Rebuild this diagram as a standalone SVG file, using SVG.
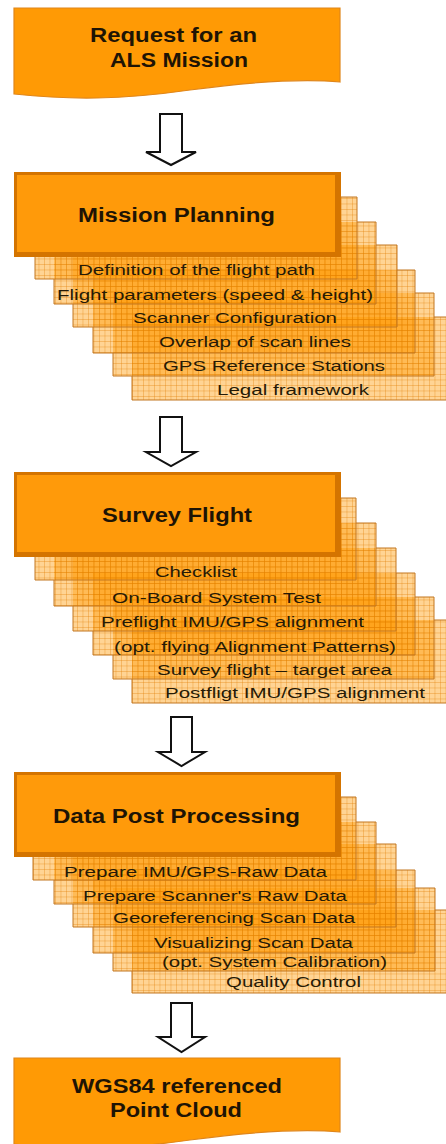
<svg xmlns="http://www.w3.org/2000/svg" width="446" height="1144" viewBox="0 0 446 1144">
<defs>
<pattern id="grid" width="5.5" height="5.5" patternUnits="userSpaceOnUse">
<path d="M0 0.3H5.5M0.3 0V5.5" stroke="#E07A00" stroke-width="0.7" fill="none" opacity="0.55"/>
</pattern>
<style>
.doc{fill:#FF9A05;stroke:#E0861A;stroke-width:1.2}
.mb-o{fill:#D47400}
.mb-i{fill:#FF9A0A}
.sf{fill:#FF9900;fill-opacity:0.42}
.sg{fill:url(#grid)}
.sb{fill:none;stroke:#C27620;stroke-width:1}
.t{font-family:"Liberation Sans",Arial,sans-serif;font-weight:bold;font-size:20px;fill:#1E1405;text-anchor:middle}
.i{font-family:"Liberation Sans",Arial,sans-serif;font-size:15.5px;fill:#261A06;text-anchor:middle}
.arr{fill:#FFFFFF;stroke:#111111;stroke-width:2;stroke-linejoin:miter}
</style>
</defs>
<rect width="446" height="1144" fill="#FFFFFF"/>

<g id="request">
<path class="doc" d="M14,8 H340 V82 C300,78 250,82 190,90 C120,100 70,100 14,94 Z"/>
<text class="t" x="173.5" y="42" textLength="167" lengthAdjust="spacingAndGlyphs">Request for an</text>
<text class="t" x="179" y="67" textLength="138" lengthAdjust="spacingAndGlyphs">ALS Mission</text>
</g>

<g id="mission-planning">
<g id="mp-6"><rect class="sf" x="132" y="317" width="322" height="83"/><rect class="sg" x="132" y="317" width="322" height="83"/><path class="sb" d="M434,317 H454 V400 H132 V376"/><text class="i" x="293" y="395" textLength="152" lengthAdjust="spacingAndGlyphs">Legal framework</text></g>
<g id="mp-5"><rect class="sf" x="113" y="293" width="321" height="83"/><rect class="sg" x="113" y="293" width="321" height="83"/><path class="sb" d="M415,293 H434 V376 H113 V353"/><text class="i" x="274" y="371" textLength="222" lengthAdjust="spacingAndGlyphs">GPS Reference Stations</text></g>
<g id="mp-4"><rect class="sf" x="93" y="270" width="322" height="83"/><rect class="sg" x="93" y="270" width="322" height="83"/><path class="sb" d="M397,270 H415 V353 H93 V327"/><text class="i" x="255" y="347" textLength="192" lengthAdjust="spacingAndGlyphs">Overlap of scan lines</text></g>
<g id="mp-3"><rect class="sf" x="73" y="245" width="324" height="82"/><rect class="sg" x="73" y="245" width="324" height="82"/><path class="sb" d="M376,245 H397 V327 H73 V304"/><text class="i" x="235" y="323" textLength="204" lengthAdjust="spacingAndGlyphs">Scanner Configuration</text></g>
<g id="mp-2"><rect class="sf" x="54" y="222" width="322" height="82"/><rect class="sg" x="54" y="222" width="322" height="82"/><path class="sb" d="M357,222 H376 V304 H54 V279"/><text class="i" x="215" y="300" textLength="316" lengthAdjust="spacingAndGlyphs">Flight parameters (speed &amp; height)</text></g>
<g id="mp-1"><rect class="sf" x="35" y="197" width="322" height="82"/><rect class="sg" x="35" y="197" width="322" height="82"/><path class="sb" d="M341,197 H357 V279 H35 V257"/><text class="i" x="196.5" y="275" textLength="237" lengthAdjust="spacingAndGlyphs">Definition of the flight path</text></g>
<rect class="mb-o" x="14" y="172" width="327" height="85"/>
<rect class="mb-i" x="17" y="175" width="318" height="77"/>
<text class="t" x="176.5" y="222" textLength="197" lengthAdjust="spacingAndGlyphs">Mission Planning</text>
</g>

<g id="survey-flight">
<g id="sf-6"><rect class="sf" x="132" y="620" width="322" height="83"/><rect class="sg" x="132" y="620" width="322" height="83"/><path class="sb" d="M434,620 H454 V703 H132 V679"/><text class="i" x="295" y="698" textLength="260" lengthAdjust="spacingAndGlyphs">Postfligt IMU/GPS alignment</text></g>
<g id="sf-5"><rect class="sf" x="113" y="597" width="321" height="82"/><rect class="sg" x="113" y="597" width="321" height="82"/><path class="sb" d="M415,597 H434 V679 H113 V655"/><text class="i" x="274.5" y="675" textLength="235" lengthAdjust="spacingAndGlyphs">Survey flight – target area</text></g>
<g id="sf-4"><rect class="sf" x="93" y="573" width="322" height="82"/><rect class="sg" x="93" y="573" width="322" height="82"/><path class="sb" d="M396,573 H415 V655 H93 V631"/><text class="i" x="255" y="652" textLength="282" lengthAdjust="spacingAndGlyphs">(opt. flying Alignment Patterns)</text></g>
<g id="sf-3"><rect class="sf" x="73" y="548" width="323" height="83"/><rect class="sg" x="73" y="548" width="323" height="83"/><path class="sb" d="M376,548 H396 V631 H73 V606"/><text class="i" x="232.5" y="627" textLength="263" lengthAdjust="spacingAndGlyphs">Preflight IMU/GPS alignment</text></g>
<g id="sf-2"><rect class="sf" x="54" y="523" width="322" height="83"/><rect class="sg" x="54" y="523" width="322" height="83"/><path class="sb" d="M356,523 H376 V606 H54 V580"/><text class="i" x="216.5" y="603" textLength="209" lengthAdjust="spacingAndGlyphs">On-Board System Test</text></g>
<g id="sf-1"><rect class="sf" x="35" y="498" width="321" height="82"/><rect class="sg" x="35" y="498" width="321" height="82"/><path class="sb" d="M341,498 H356 V580 H35 V557"/><text class="i" x="196" y="577" textLength="82" lengthAdjust="spacingAndGlyphs">Checklist</text></g>
<rect class="mb-o" x="14" y="472" width="327" height="85"/>
<rect class="mb-i" x="17" y="475" width="318" height="77"/>
<text class="t" x="177" y="522" textLength="150" lengthAdjust="spacingAndGlyphs">Survey Flight</text>
</g>

<g id="data-post-processing">
<g id="dp-6"><rect class="sf" x="132" y="910" width="322" height="83"/><rect class="sg" x="132" y="910" width="322" height="83"/><path class="sb" d="M435,910 H454 V993 H132 V971"/><text class="i" x="293.5" y="987" textLength="135" lengthAdjust="spacingAndGlyphs">Quality Control</text></g>
<g id="dp-5"><rect class="sf" x="113" y="888" width="322" height="83"/><rect class="sg" x="113" y="888" width="322" height="83"/><path class="sb" d="M415,888 H435 V971 H113 V953"/><text class="i" x="274.5" y="967" textLength="225" lengthAdjust="spacingAndGlyphs">(opt. System Calibration)</text></g>
<g id="dp-4"><rect class="sf" x="93" y="870" width="322" height="83"/><rect class="sg" x="93" y="870" width="322" height="83"/><path class="sb" d="M396,870 H415 V953 H93 V927"/><text class="i" x="253.5" y="948" textLength="199" lengthAdjust="spacingAndGlyphs">Visualizing Scan Data</text></g>
<g id="dp-3"><rect class="sf" x="73" y="844" width="323" height="83"/><rect class="sg" x="73" y="844" width="323" height="83"/><path class="sb" d="M376,844 H396 V927 H73 V904"/><text class="i" x="234" y="923" textLength="242" lengthAdjust="spacingAndGlyphs">Georeferencing Scan Data</text></g>
<g id="dp-2"><rect class="sf" x="54" y="822" width="322" height="82"/><rect class="sg" x="54" y="822" width="322" height="82"/><path class="sb" d="M356,822 H376 V904 H54 V880"/><text class="i" x="215" y="901" textLength="264" lengthAdjust="spacingAndGlyphs">Prepare Scanner's Raw Data</text></g>
<g id="dp-1"><rect class="sf" x="33" y="797" width="323" height="83"/><rect class="sg" x="33" y="797" width="323" height="83"/><path class="sb" d="M341,797 H356 V880 H33 V857"/><text class="i" x="195.5" y="877" textLength="263" lengthAdjust="spacingAndGlyphs">Prepare IMU/GPS-Raw Data</text></g>
<rect class="mb-o" x="14" y="772" width="327" height="85"/>
<rect class="mb-i" x="17" y="775" width="318" height="77"/>
<text class="t" x="176.5" y="823" textLength="247" lengthAdjust="spacingAndGlyphs">Data Post Processing</text>
</g>

<g id="point-cloud">
<path class="doc" d="M14,1058 H340 V1132 C300,1128 250,1132 190,1140 C120,1150 70,1150 14,1144 Z"/>
<text class="t" x="177" y="1093" textLength="210" lengthAdjust="spacingAndGlyphs">WGS84 referenced</text>
<text class="t" x="176" y="1117" textLength="132" lengthAdjust="spacingAndGlyphs">Point Cloud</text>
</g>

<g id="connectors">
<path class="arr" d="M160,114 H182 V152 H196 L171,165 L146,152 H160 Z"/>
<path class="arr" d="M160,417 H182 V452 H196 L171,466 L146,452 H160 Z"/>
<path class="arr" d="M171,717 H192 V752 H205 L181.5,766 L158,752 H171 Z"/>
<path class="arr" d="M171,1003 H192 V1037 H205 L181.5,1052 L158,1037 H171 Z"/>
</g>
</svg>
